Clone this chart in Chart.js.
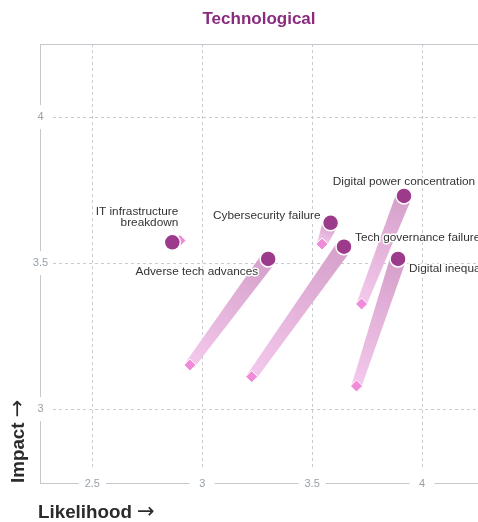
<!DOCTYPE html>
<html>
<head>
<script src="https://cdn.jsdelivr.net/npm/chart.js"></script>
<style>
  body { margin: 0; background: #fff; }
  .chart-box { position: relative; width: 478px; height: 522px; }
</style>
</head>
<body>
<div class="chart-box"><canvas id="riskChart"></canvas></div>
<script>
  // risk names and positions (current = circle, previous = diamond)
  var risks = ['IT infrastructure\nbreakdown', 'Cybersecurity failure', 'Tech governance failure',
               'Adverse tech advances', 'Digital power concentration', 'Digital inequality'];
  var likelihoodNow  = [2.864, 3.584, 3.645, 3.300, 3.918, 3.891];
  var impactNow      = [3.571, 3.638, 3.556, 3.514, 3.730, 3.514];
  var likelihoodPrev = [2.899, 3.545, 3.225, 2.944, 3.725, 3.702];
  var impactPrev     = [3.577, 3.565, 3.111, 3.151, 3.360, 3.079];
  var xTicks = [2.5, 3, 3.5, 4];
  var yTicks = [3, 3.5, 4];

  var FONT = '"Liberation Sans", Arial, sans-serif';
  var AXIS = '#c2c8ce';
  var GRID = '#c6ccd2';
  var TICK = '#98a0a8';

  // where each label sits relative to its circle
  var labelPlace = [
    { align: 'right',  dx: 6,   dy: -31 },
    { align: 'right',  dx: -10, dy: -7 },
    { align: 'left',   dx: 11,  dy: -9 },
    { align: 'right',  dx: -10, dy: 12.5 },
    { align: 'center', dx: 0,   dy: -14 },
    { align: 'left',   dx: 11,  dy: 10 }
  ];

  var nowPoints = likelihoodNow.map(function(v, i) { return { x: v, y: impactNow[i] }; });
  var prevPoints = likelihoodPrev.map(function(v, i) { return { x: v, y: impactPrev[i] }; });

  var axesPlugin = {
    id: 'axesPlugin',
    beforeDatasetsDraw: function(chart) {
      var ctx = chart.ctx, a = chart.chartArea;
      var xs = chart.scales.x, ys = chart.scales.y;
      ctx.save();
      ctx.lineWidth = 1;
      // dashed grid, inset from the axes
      ctx.strokeStyle = GRID;
      ctx.setLineDash([3, 3]);
      xTicks.forEach(function(t) {
        var px = Math.round(xs.getPixelForValue(t)) + 0.5;
        ctx.beginPath(); ctx.moveTo(px, a.top); ctx.lineTo(px, a.bottom - 13); ctx.stroke();
      });
      yTicks.forEach(function(t) {
        var py = Math.round(ys.getPixelForValue(t)) + 0.5;
        ctx.beginPath(); ctx.moveTo(a.left + 13, py); ctx.lineTo(a.right, py); ctx.stroke();
      });
      ctx.setLineDash([]);

      // solid frame lines with gaps at the tick labels
      ctx.strokeStyle = AXIS;
      ctx.font = '11px ' + FONT;
      var lx = Math.round(a.left) + 0.5, by = Math.round(a.bottom) + 0.5, ty = Math.round(a.top) + 0.5;
      ctx.beginPath(); ctx.moveTo(lx, ty); ctx.lineTo(a.right, ty); ctx.stroke();

      var yStops = [a.top];
      yTicks.slice().sort(function(p, q) { return q - p; }).forEach(function(t) {
        var py = ys.getPixelForValue(t);
        yStops.push(py - 12, py + 12);
      });
      yStops.push(a.bottom);
      for (var i = 0; i < yStops.length; i += 2) {
        ctx.beginPath(); ctx.moveTo(lx, yStops[i]); ctx.lineTo(lx, yStops[i + 1]); ctx.stroke();
      }

      var xStops = [a.left];
      xTicks.forEach(function(t) {
        var px = xs.getPixelForValue(t);
        var half = Math.max(12.5, ctx.measureText(String(t)).width / 2 + 6);
        xStops.push(px - half, px + half);
      });
      xStops.push(a.right);
      for (var j = 0; j < xStops.length; j += 2) {
        ctx.beginPath(); ctx.moveTo(xStops[j], by); ctx.lineTo(xStops[j + 1], by); ctx.stroke();
      }

      // tick labels
      ctx.fillStyle = TICK;
      ctx.textAlign = 'center';
      ctx.textBaseline = 'middle';
      xTicks.forEach(function(t) { ctx.fillText(String(t), xs.getPixelForValue(t), a.bottom + 0.5); });
      yTicks.forEach(function(t) { ctx.fillText(String(t), a.left + 0.5, ys.getPixelForValue(t)); });

      // trails from previous to current position
      likelihoodNow.forEach(function(v, k) {
        var x0 = xs.getPixelForValue(likelihoodPrev[k]), y0 = ys.getPixelForValue(impactPrev[k]);
        var x1 = xs.getPixelForValue(v), y1 = ys.getPixelForValue(impactNow[k]);
        var dx = x1 - x0, dy = y1 - y0, len = Math.sqrt(dx * dx + dy * dy) || 1;
        var nx = -dy / len, ny = dx / len;
        var w0 = 5, w1 = 8;
        var g = ctx.createLinearGradient(x0, y0, x1, y1);
        g.addColorStop(0, '#f4c8ec');
        g.addColorStop(1, '#d5a0ca');
        ctx.fillStyle = g;
        ctx.beginPath();
        ctx.moveTo(x0 + nx * w0, y0 + ny * w0);
        ctx.lineTo(x1 + nx * w1, y1 + ny * w1);
        ctx.lineTo(x1 - nx * w1, y1 - ny * w1);
        ctx.lineTo(x0 - nx * w0, y0 - ny * w0);
        ctx.closePath();
        ctx.fill();
      });
      ctx.restore();
    }
  };

  var labelsPlugin = {
    id: 'labelsPlugin',
    afterDatasetsDraw: function(chart) {
      var ctx = chart.ctx, xs = chart.scales.x, ys = chart.scales.y;
      ctx.save();
      ctx.font = '11.8px ' + FONT;
      ctx.textBaseline = 'middle';
      ctx.lineJoin = 'round';
      ctx.lineWidth = 3;
      ctx.strokeStyle = '#fff';
      ctx.fillStyle = '#333';
      risks.forEach(function(name, i) {
        var p = labelPlace[i];
        var cx = xs.getPixelForValue(likelihoodNow[i]), cy = ys.getPixelForValue(impactNow[i]);
        ctx.textAlign = p.align;
        name.split('\n').forEach(function(line, n) {
          var tx = cx + p.dx, ty = cy + p.dy + n * 11.5;
          ctx.strokeText(line, tx, ty);
          ctx.fillText(line, tx, ty);
        });
      });

      // axis titles, word in bold then a thin arrow
      var a = chart.chartArea;
      ctx.fillStyle = '#2b2b2b';
      ctx.textAlign = 'left';
      ctx.textBaseline = 'alphabetic';
      var drawTitle = function(word, x, y) {
        ctx.font = 'bold 18.8px ' + FONT;
        ctx.fillText(word, x, y);
        var w = ctx.measureText(word + ' ').width;
        ctx.font = '21px "DejaVu Sans", sans-serif';
        ctx.fillText('\u2192', x + w, y);
      };
      drawTitle('Likelihood', a.left - 2, 518);
      ctx.translate(24, a.bottom);
      ctx.rotate(-Math.PI / 2);
      drawTitle('Impact', 0, 0);
      ctx.restore();
    }
  };

  var ctx = document.getElementById('riskChart').getContext('2d');
  new Chart(ctx, {
    type: 'scatter',
    data: {
      datasets: [
        {
          label: 'Previous',
          data: prevPoints,
          order: 2,
          pointStyle: 'rectRot',
          pointRadius: 6,
          backgroundColor: '#f08bd9',
          borderColor: '#fff',
          borderWidth: 1
        },
        {
          label: 'Current',
          data: nowPoints,
          order: 1,
          pointStyle: 'circle',
          pointRadius: 8,
          backgroundColor: '#9c3a8c',
          borderColor: '#fff',
          borderWidth: 1.5
        }
      ]
    },
    options: {
      responsive: true,
      maintainAspectRatio: false,
      animation: false,
      events: [],
      layout: { autoPadding: false, padding: { left: 40, right: 0, top: 0, bottom: 39 } },
      plugins: {
        legend: { display: false },
        tooltip: { enabled: false },
        title: {
          display: true,
          fullSize: false,
          text: 'Technological',
          color: '#8a2b7e',
          font: { family: FONT, size: 17, weight: 'bold' },
          padding: { top: 8.9, bottom: 14.7 }
        }
      },
      scales: {
        x: { type: 'linear', display: false, min: 2.262, max: 4.2547 },
        y: { type: 'linear', display: false, min: 2.747, max: 4.25 }
      }
    },
    plugins: [axesPlugin, labelsPlugin]
  });
</script>
</body>
</html>
